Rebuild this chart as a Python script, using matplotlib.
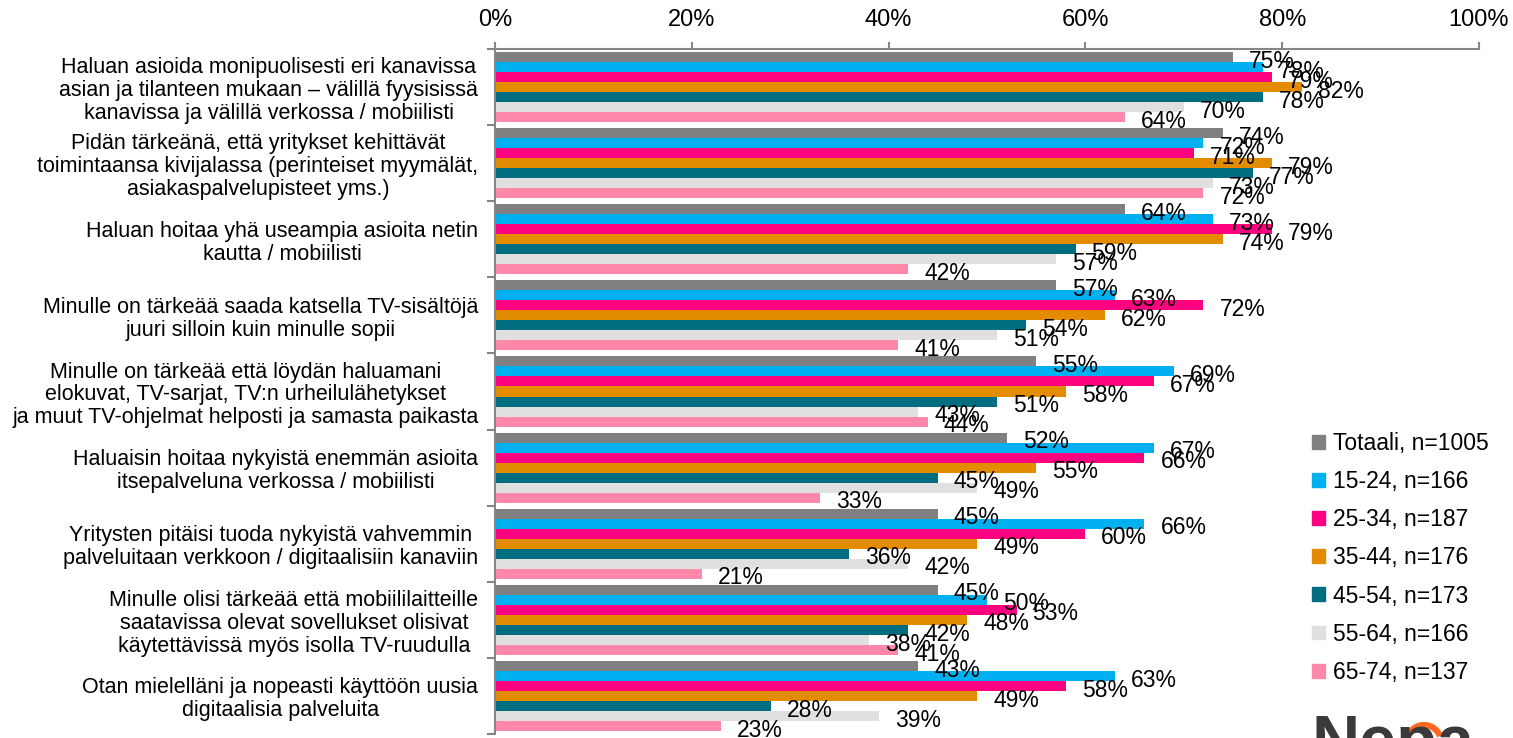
import matplotlib.pyplot as plt
import matplotlib.patches as mpatches
from matplotlib.transforms import IdentityTransform
import numpy as np

plt.rcParams['font.family'] = ['Liberation Sans', 'DejaVu Sans']

# statements (one group of bars each)
categories = [
    'Haluan asioida monipuolisesti eri kanavissa\nasian ja tilanteen mukaan – välillä fyysisissä\nkanavissa ja välillä verkossa / mobiilisti',
    'Pidän tärkeänä, että yritykset kehittävät\ntoimintaansa kivijalassa (perinteiset myymälät,\nasiakaspalvelupisteet yms.)',
    'Haluan hoitaa yhä useampia asioita netin\nkautta / mobiilisti',
    'Minulle on tärkeää saada katsella TV-sisältöjä\njuuri silloin kuin minulle sopii',
    'Minulle on tärkeää että löydän haluamani\nelokuvat, TV-sarjat, TV:n urheilulähetykset\nja muut TV-ohjelmat helposti ja samasta paikasta',
    'Haluaisin hoitaa nykyistä enemmän asioita\nitsepalveluna verkossa / mobiilisti',
    'Yritysten pitäisi tuoda nykyistä vahvemmin\npalveluitaan verkkoon / digitaalisiin kanaviin',
    'Minulle olisi tärkeää että mobiililaitteille\nsaatavissa olevat sovellukset olisivat\nkäytettävissä myös isolla TV-ruudulla',
    'Otan mielelläni ja nopeasti käyttöön uusia\ndigitaalisia palveluita',
]

series_names = ['Totaali, n=1005', '15-24, n=166', '25-34, n=187', '35-44, n=176',
                '45-54, n=173', '55-64, n=166', '65-74, n=137']

totaali = [75, 74, 64, 57, 55, 52, 45, 45, 43]
age_15_24 = [78, 72, 73, 63, 69, 67, 66, 50, 63]
age_25_34 = [79, 71, 79, 72, 67, 66, 60, 53, 58]
age_35_44 = [82, 79, 74, 62, 58, 55, 49, 48, 49]
age_45_54 = [78, 77, 59, 54, 51, 45, 36, 42, 28]
age_55_64 = [70, 73, 57, 51, 43, 49, 42, 38, 39]
age_65_74 = [64, 72, 42, 41, 44, 33, 21, 41, 23]

colors = ['#808080', '#00B0F0', '#FF0080', '#E38C00', '#006E80', '#E0E0E0', '#FF88AA']

x_ticks = [0, 20, 40, 60, 80, 100]

all_series = [totaali, age_15_24, age_25_34, age_35_44, age_45_54, age_55_64, age_65_74]

fig = plt.figure(figsize=(15.13, 7.38), dpi=100)
ax = fig.add_axes([495 / 1513, 4 / 738, 984 / 1513, 685 / 738])

n_groups = len(categories)
n_series = len(all_series)
bar_h = 0.92 / n_series
y_base = np.arange(n_groups)

for j, (vals, col, name) in enumerate(zip(all_series, colors, series_names)):
    ys = y_base - 0.46 + (j + 0.5) * bar_h
    ax.barh(ys, vals, height=bar_h, color=col, label=name, linewidth=0)
    for y, v in zip(ys, vals):
        ax.annotate(f'{v}%', (v, y), xytext=(11.5, -3), textcoords='offset points',
                    ha='left', va='center', fontsize=16.5, color='#000000',
                    annotation_clip=False)

ax.set_xlim(0, 100)
ax.set_ylim(n_groups - 0.5, -0.5)

ax.xaxis.tick_top()
ax.set_xticks(x_ticks)
ax.set_xticklabels([f'{t}%' for t in x_ticks], fontsize=17)
ax.tick_params(axis='x', length=5, width=1.5, color='#868686', pad=8)

# boundaries get the tick marks, centres get the text
ax.set_yticks(np.arange(n_groups + 1) - 0.5)
ax.set_yticklabels([''] * (n_groups + 1))
ax.tick_params(axis='y', which='major', length=6, width=1.5, color='#868686')
ax.set_yticks(y_base, minor=True)
ax.set_yticklabels(categories, minor=True, fontsize=15.5, linespacing=1.12)
ax.tick_params(axis='y', which='minor', length=0, pad=12)
for lab in ax.get_yticklabels(minor=True):
    lab.set_multialignment('center')

for s in ['right', 'bottom']:
    ax.spines[s].set_visible(False)
for s in ['top', 'left']:
    ax.spines[s].set_color('#868686')
    ax.spines[s].set_linewidth(1.5)

handles = [mpatches.Patch(color=c, label=n) for c, n in zip(colors, series_names)]
fig.legend(handles=handles, loc='upper left', bbox_to_anchor=(1312 / 1513, 1 - 432 / 738),
           frameon=False, fontsize=16.5, handlelength=0.55, handleheight=0.55,
           handletextpad=0.35, labelspacing=0.66, borderpad=0, borderaxespad=0)

# logo in the corner
fig.text(1312 / 1513, 1 - 762 / 738, 'Nepa', fontsize=48, fontweight='bold',
         color='#3a3a3a', ha='left', va='baseline')
ring = mpatches.Arc((1424, -4), 34, 34, theta1=20, theta2=200, lw=4.5,
                    color='#FF6A1F', transform=IdentityTransform())
fig.add_artist(ring)

fig.savefig('out.png', dpi=100)
